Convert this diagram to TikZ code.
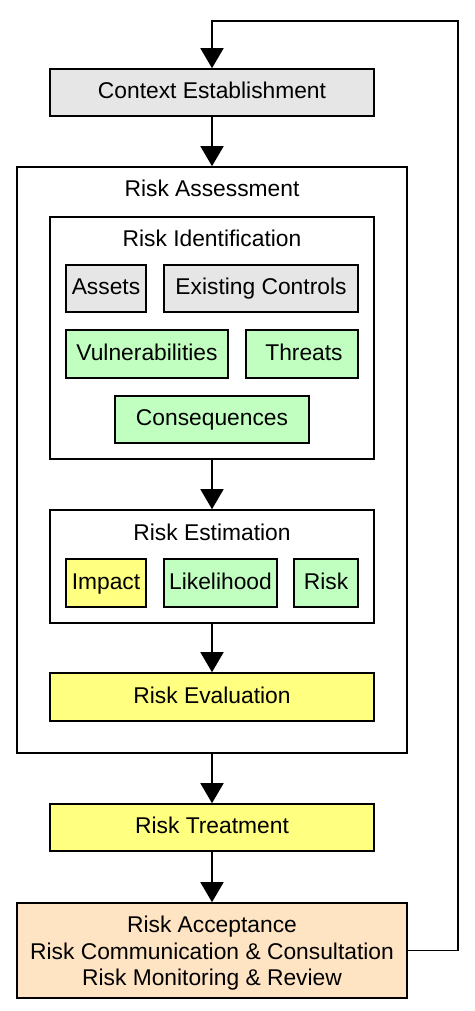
\documentclass[tikz,border=0pt]{standalone}
\usepackage{fontspec}
\setmainfont{Liberation Sans}
\usetikzlibrary{arrows.meta}
\definecolor{boxgray}{HTML}{E6E6E6}
\definecolor{boxgreen}{HTML}{C1FFC1}
\definecolor{boxyellow}{HTML}{FFFF80}
\definecolor{boxpeach}{HTML}{FFE4C4}
\begin{document}
\begin{tikzpicture}[x=1pt,y=-1pt,
  every node/.style={font=\fontsize{22.8}{26.5}\selectfont, inner sep=0pt},
  box/.style={draw=black, line width=1.6pt, rectangle, align=center},
  line1/.style={text height=17.5pt, text depth=5.5pt},
  title/.style={},
  arr/.style={draw=black, line width=1.6pt, -{Triangle[width=23pt,length=20pt]}}]
\useasboundingbox (0,0) rectangle (474,1011);
\fill[white] (0,0) rectangle (474,1011);

\node[box, line1, fill=boxgray, minimum width=324pt, minimum height=47pt] (ctx) at (212,92.5) {Context Establishment};

\node[box, fill=white, minimum width=390pt, minimum height=586pt] (assess) at (212,460) {};
\node[title] (assessT) at (212,188) {Risk Assessment};

\node[box, fill=white, minimum width=324pt, minimum height=242pt] (ident) at (212,338) {};
\node[title] (identT) at (212,238) {Risk Identification};
\node[box, line1, fill=boxgray, minimum width=80pt, minimum height=47pt] (assets) at (106,288.5) {Assets};
\node[box, line1, fill=boxgray, minimum width=194pt, minimum height=47pt] (controls) at (261,288.5) {Existing Controls};
\node[box, line1, fill=boxgreen, minimum width=162pt, minimum height=48pt] (vuln) at (147,354) {Vulnerabilities};
\node[box, line1, fill=boxgreen, minimum width=112pt, minimum height=48pt] (threats) at (302,354) {\hspace{4pt}Threats};
\node[box, line1, fill=boxgreen, minimum width=194pt, minimum height=47pt] (conseq) at (212,419.5) {Consequences};

\node[box, fill=white, minimum width=324pt, minimum height=113pt] (estim) at (212,566.5) {};
\node[title] (estimT) at (212,532) {Risk Estimation};
\node[box, line1, fill=boxyellow, minimum width=80pt, minimum height=48pt] (impact) at (106,583) {Impact};
\node[box, line1, fill=boxgreen, minimum width=113pt, minimum height=48pt] (likeli) at (220.5,583) {Likelihood};
\node[box, line1, fill=boxgreen, minimum width=64pt, minimum height=48pt] (risk) at (326,583) {Risk};

\node[box, line1, fill=boxyellow, minimum width=324pt, minimum height=48pt] (eval) at (212,697) {Risk Evaluation};

\node[box, line1, fill=boxyellow, minimum width=324pt, minimum height=47pt] (treat) at (212,827.5) {Risk Treatment};

\node[box, fill=boxpeach, minimum width=390pt, minimum height=95pt] (accept) at (212,950.5) {};
\node[align=center] (acceptT) at (212,953.5) {Risk Acceptance\\Risk Communication \& Consultation\\Risk Monitoring \& Review};

\coordinate (loopA) at (458,21);
\coordinate (loopB) at (212,21);

\draw[arr] (ctx.south) -- (assess.north);
\draw[arr] (ident.south) -- (estim.north);
\draw[arr] (estim.south) -- (eval.north);
\draw[arr] (assess.south) -- (treat.north);
\draw[arr] (treat.south) -- (accept.north);
\draw[arr] (accept.east) -| (loopA) -- (loopB) -- (ctx.north);
\end{tikzpicture}
\end{document}
